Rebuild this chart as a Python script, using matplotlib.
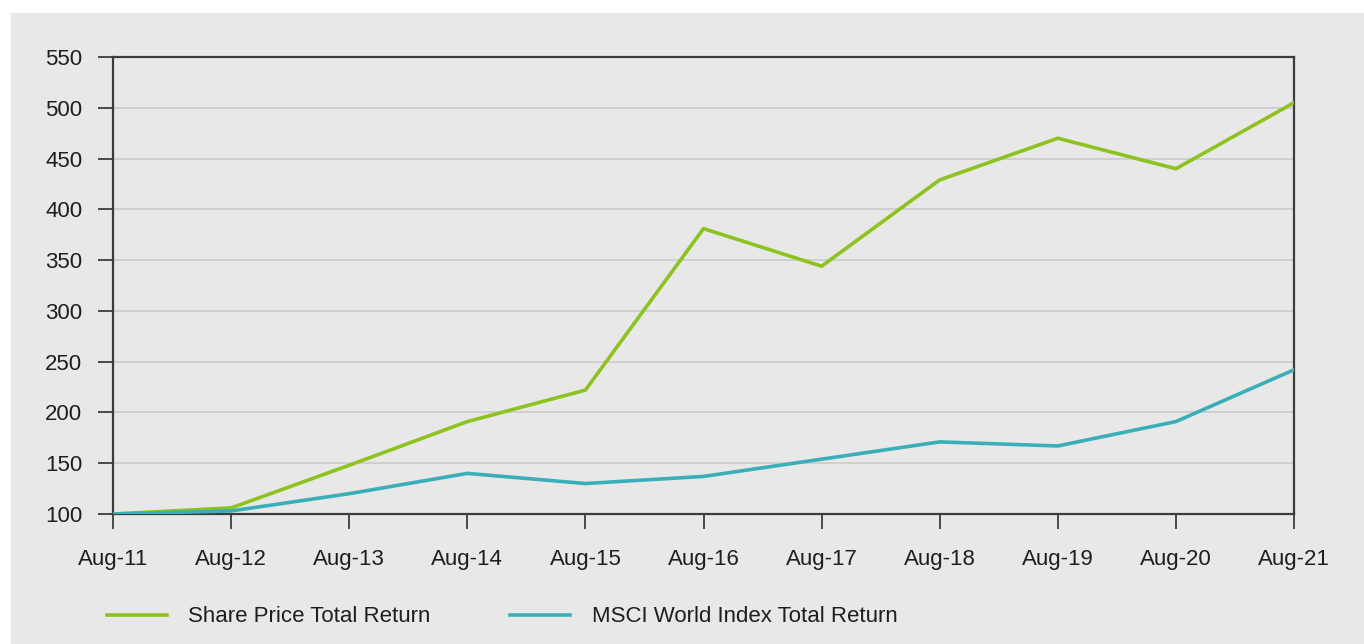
import matplotlib.pyplot as plt
from matplotlib.patches import Rectangle

years = ["Aug-11", "Aug-12", "Aug-13", "Aug-14", "Aug-15", "Aug-16",
         "Aug-17", "Aug-18", "Aug-19", "Aug-20", "Aug-21"]
share_price = [100, 106, 148, 191, 222, 381, 344, 429, 470, 440, 505]
msci_world = [100, 103, 120, 140, 130, 137, 154, 171, 167, 191, 242]
y_ticks = [100, 150, 200, 250, 300, 350, 400, 450, 500, 550]

GREEN = "#8DC21F"
TEAL = "#3AAFB9"
BG = "#E8E8E8"
DARK = "#3C3C3C"

plt.rcParams["font.family"] = ["Liberation Sans", "DejaVu Sans"]

fig = plt.figure(figsize=(13.64, 6.44), dpi=100, facecolor="white")
fig.patches.append(Rectangle((11 / 1364, 0), 1, 1 - 13 / 644,
                             transform=fig.transFigure, color=BG, zorder=-10))

ax = fig.add_axes([113 / 1364, 1 - 514 / 644, (1294 - 113) / 1364, (514 - 57) / 644])
ax.set_zorder(1)
ax.set_facecolor(BG)

x = range(len(years))
ax.plot(x, share_price, color=GREEN, lw=2.6, label="Share Price Total Return", zorder=3)
ax.plot(x, msci_world, color=TEAL, lw=2.6, label="MSCI World Index Total Return", zorder=3)

ax.set_xlim(0, len(years) - 1)
ax.set_ylim(100, 550)
ax.set_xticks(list(x))
ax.set_xticklabels(years)
ax.set_yticks(y_ticks)
ax.yaxis.grid(True, color="#CBCBCB", lw=1.2)
ax.set_axisbelow(True)

for side in ["left", "right", "top", "bottom"]:
    ax.spines[side].set_color(DARK)
    ax.spines[side].set_linewidth(1.6)

ax.tick_params(axis="x", length=11, width=1.3, color=DARK, pad=14,
               labelsize=16, labelcolor="#1E1E1E")
ax.tick_params(axis="y", length=11, width=1.3, color=DARK, pad=11,
               labelsize=16, labelcolor="#1E1E1E")

fig.legend(loc="center left", bbox_to_anchor=(107 / 1364, 1 - 617 / 644),
           ncol=2, frameon=False, fontsize=16, handlelength=2.7,
           handletextpad=0.95, columnspacing=3.6, borderpad=0, borderaxespad=0,
           labelcolor="#1E1E1E")

fig.savefig("out.png", dpi=100, facecolor="white")
